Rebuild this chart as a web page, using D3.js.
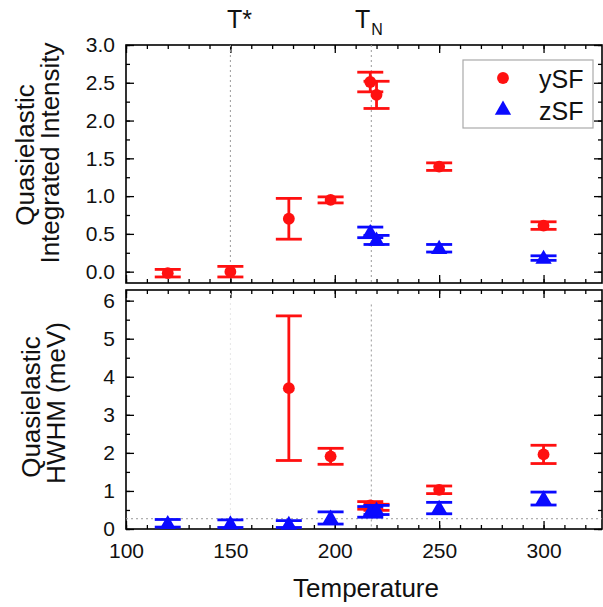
<!DOCTYPE html>
<html>
<head>
<meta charset="utf-8">
<script src="https://cdn.jsdelivr.net/npm/d3@7"></script>
<style>
  body { margin: 0; background: #fff; }
  svg { font-family: "Liberation Sans", Arial, sans-serif; }
</style>
</head>
<body>
<div id="chart"></div>
<script>
// Temperature (K) and values
const intensityYTemp = [120, 150, 178, 198, 217, 220, 250, 300];
const intensityY = [-0.02, 0.0, 0.70, 0.95, 2.51, 2.34, 1.39, 0.61];
const intensityYErr = [0.05, 0.07, 0.27, 0.04, 0.13, 0.18, 0.05, 0.05];

const intensityZTemp = [217, 220, 250, 300];
const intensityZ = [0.52, 0.42, 0.31, 0.18];
const intensityZErr = [0.07, 0.06, 0.05, 0.03];

const hwhmYTemp = [178, 198, 217, 220, 250, 300];
const hwhmY = [3.70, 1.91, 0.62, 0.57, 1.03, 1.96];
const hwhmYErr = [1.90, 0.21, 0.10, 0.08, 0.10, 0.24];

const hwhmZTemp = [120, 150, 178, 198, 217, 220, 250, 300];
const hwhmZ = [0.15, 0.14, 0.13, 0.29, 0.45, 0.50, 0.55, 0.80];
const hwhmZErr = [0.10, 0.10, 0.09, 0.16, 0.14, 0.12, 0.15, 0.17];

const xTicks = [100, 150, 200, 250, 300];
const intensityTicks = [0.0, 0.5, 1.0, 1.5, 2.0, 2.5, 3.0];
const hwhmTicks = [0, 1, 2, 3, 4, 5, 6];
const tStar = 150;
const tN = 217.5;
const hwhmBaseline = 0.27;

const width = 603, height = 607;
const left = 126, right = 602;
const red = '#ff1010', blue = '#0a0aff';

const svg = d3.select('#chart')
    .append('svg')
    .attr('width', width)
    .attr('height', height);

const x = d3.scaleLinear().domain([100, 328]).range([left, right]);
const yTop = d3.scaleLinear().domain([-0.15, 3.0]).range([283, 45]);
const yBot = d3.scaleLinear().domain([0, 6.28]).range([529, 290]);

const minorX = d3.range(100, 330, 10);

function drawPanel(y, majorY, minorY, fmt, showXLabels) {
    const [y0, y1] = y.range();
    const g = svg.append('g');

    // all ticks point inward
    const tickStyle = s => s.selectAll('line').attr('stroke', '#000').attr('stroke-width', 1.3);
    g.append('g').attr('transform', `translate(0,${y0})`)
        .call(d3.axisBottom(x).tickValues(minorX).tickSize(-4).tickFormat(''))
        .call(s => s.select('.domain').remove()).call(tickStyle);
    g.append('g').attr('transform', `translate(0,${y1})`)
        .call(d3.axisTop(x).tickValues(minorX).tickSize(-4).tickFormat(''))
        .call(s => s.select('.domain').remove()).call(tickStyle);
    g.append('g').attr('transform', `translate(0,${y0})`)
        .call(d3.axisBottom(x).tickValues(xTicks).tickSize(-8)
            .tickPadding(14).tickFormat(showXLabels ? d3.format('d') : ''))
        .call(s => s.select('.domain').remove()).call(tickStyle)
        .call(s => s.selectAll('text').attr('font-size', 21).attr('fill', '#111'));
    g.append('g').attr('transform', `translate(0,${y1})`)
        .call(d3.axisTop(x).tickValues(xTicks).tickSize(-8).tickFormat(''))
        .call(s => s.select('.domain').remove()).call(tickStyle);

    g.append('g').attr('transform', `translate(${left},0)`)
        .call(d3.axisLeft(y).tickValues(minorY).tickSize(-4).tickFormat(''))
        .call(s => s.select('.domain').remove()).call(tickStyle);
    g.append('g').attr('transform', `translate(${right},0)`)
        .call(d3.axisRight(y).tickValues(minorY).tickSize(-4).tickFormat(''))
        .call(s => s.select('.domain').remove()).call(tickStyle);
    g.append('g').attr('transform', `translate(${left},0)`)
        .call(d3.axisLeft(y).tickValues(majorY).tickSize(-8).tickPadding(11).tickFormat(fmt))
        .call(s => s.select('.domain').remove()).call(tickStyle)
        .call(s => s.selectAll('text').attr('font-size', 21).attr('fill', '#111'));
    g.append('g').attr('transform', `translate(${right},0)`)
        .call(d3.axisRight(y).tickValues(majorY).tickSize(-8).tickFormat(''))
        .call(s => s.select('.domain').remove()).call(tickStyle);

    g.append('rect')
        .attr('x', left).attr('y', y1)
        .attr('width', right - left).attr('height', y0 - y1)
        .attr('fill', 'none').attr('stroke', '#000').attr('stroke-width', 1.6);
    return g;
}

function drawSeries(y, temps, vals, errs, color, shape) {
    const g = svg.append('g');
    const pts = temps.map((t, i) => ({ t, v: vals[i], e: errs[i] }));
    const eb = g.selectAll('.eb').data(pts).enter().append('g')
        .attr('stroke', color).attr('stroke-width', 2.8);
    eb.append('line')
        .attr('x1', d => x(d.t)).attr('x2', d => x(d.t))
        .attr('y1', d => y(d.v + d.e)).attr('y2', d => y(d.v - d.e));
    eb.append('line')
        .attr('x1', d => x(d.t) - 13).attr('x2', d => x(d.t) + 13)
        .attr('y1', d => y(d.v + d.e)).attr('y2', d => y(d.v + d.e));
    eb.append('line')
        .attr('x1', d => x(d.t) - 13).attr('x2', d => x(d.t) + 13)
        .attr('y1', d => y(d.v - d.e)).attr('y2', d => y(d.v - d.e));
    const sym = d3.symbol().type(shape === 'circle' ? d3.symbolCircle : d3.symbolTriangle)
        .size(shape === 'circle' ? 110 : 115);
    g.selectAll('.pt').data(pts).enter().append('path')
        .attr('transform', d => `translate(${x(d.t)},${y(d.v) + (shape === 'circle' ? 0 : 1)})`)
        .attr('d', sym)
        .attr('fill', color);
}

function guide(x1, x2, y1, y2, color) {
    svg.append('line')
        .attr('x1', x1).attr('x2', x2).attr('y1', y1).attr('y2', y2)
        .attr('stroke', color).attr('stroke-width', 1)
        .attr('stroke-dasharray', '2,3');
}

// top panel
drawPanel(yTop, intensityTicks, d3.range(0, 3.01, 0.25), d3.format('.1f'), false);
guide(x(tStar), x(tStar), yTop(3.0), yTop(-0.1), '#9a9a9a');
guide(x(tN), x(tN), yTop(3.0), yTop(-0.15), '#9a9a9a');
drawSeries(yTop, intensityYTemp, intensityY, intensityYErr, red, 'circle');
drawSeries(yTop, intensityZTemp, intensityZ, intensityZErr, blue, 'triangle');

// bottom panel
drawPanel(yBot, hwhmTicks, d3.range(0, 6.01, 0.5), d3.format('d'), true);
guide(x(tStar), x(tStar), yBot(6.2), yBot(0), '#e6e6e6');
guide(x(tN), x(tN), yBot(5.9), yBot(0), '#9a9a9a');
guide(left, right, yBot(hwhmBaseline), yBot(hwhmBaseline), '#9a9a9a');
drawSeries(yBot, hwhmYTemp, hwhmY, hwhmYErr, red, 'circle');
drawSeries(yBot, hwhmZTemp, hwhmZ, hwhmZErr, blue, 'triangle');

// temperature markers
svg.append('text').attr('x', 227).attr('y', 28)
    .attr('font-size', 25).attr('fill', '#111').text('T*');
const tn = svg.append('text').attr('x', 355).attr('y', 28)
    .attr('font-size', 25).attr('fill', '#111');
tn.append('tspan').text('T');
tn.append('tspan').attr('font-size', 16).attr('dx', 1).attr('dy', 7).text('N');

// legend
const leg = svg.append('g');
leg.append('rect').attr('x', 463).attr('y', 60).attr('width', 130).attr('height', 68)
    .attr('fill', '#fff').attr('stroke', '#aaa').attr('stroke-width', 1.2);
const legendItems = [{ name: 'ySF', color: red, type: d3.symbolCircle, size: 110 },
                     { name: 'zSF', color: blue, type: d3.symbolTriangle, size: 115 }];
legendItems.forEach((d, i) => {
    const cy = 78 + i * 32;
    leg.append('path').attr('transform', `translate(503,${cy})`)
        .attr('d', d3.symbol().type(d.type).size(d.size)).attr('fill', d.color);
    leg.append('text').attr('x', 539).attr('y', cy + 10)
        .attr('font-size', 25).attr('fill', '#111').text(d.name);
});

// axis titles
function yTitle(lines, bx, cy) {
    lines.forEach((t, i) => {
        svg.append('text')
            .attr('transform', `translate(${bx[i]},${cy[i]}) rotate(-90)`)
            .attr('text-anchor', 'middle')
            .attr('font-size', 26).attr('fill', '#111').text(t);
    });
}
yTitle(['Quasielastic', 'Integrated Intensity'], [34, 59], [155, 153]);
yTitle(['Quasielastic', 'HWHM (meV)'], [40, 65], [407, 403]);

svg.append('text').attr('x', 366).attr('y', 597)
    .attr('text-anchor', 'middle').attr('font-size', 26).attr('fill', '#111').text('Temperature');
</script>
</body>
</html>
